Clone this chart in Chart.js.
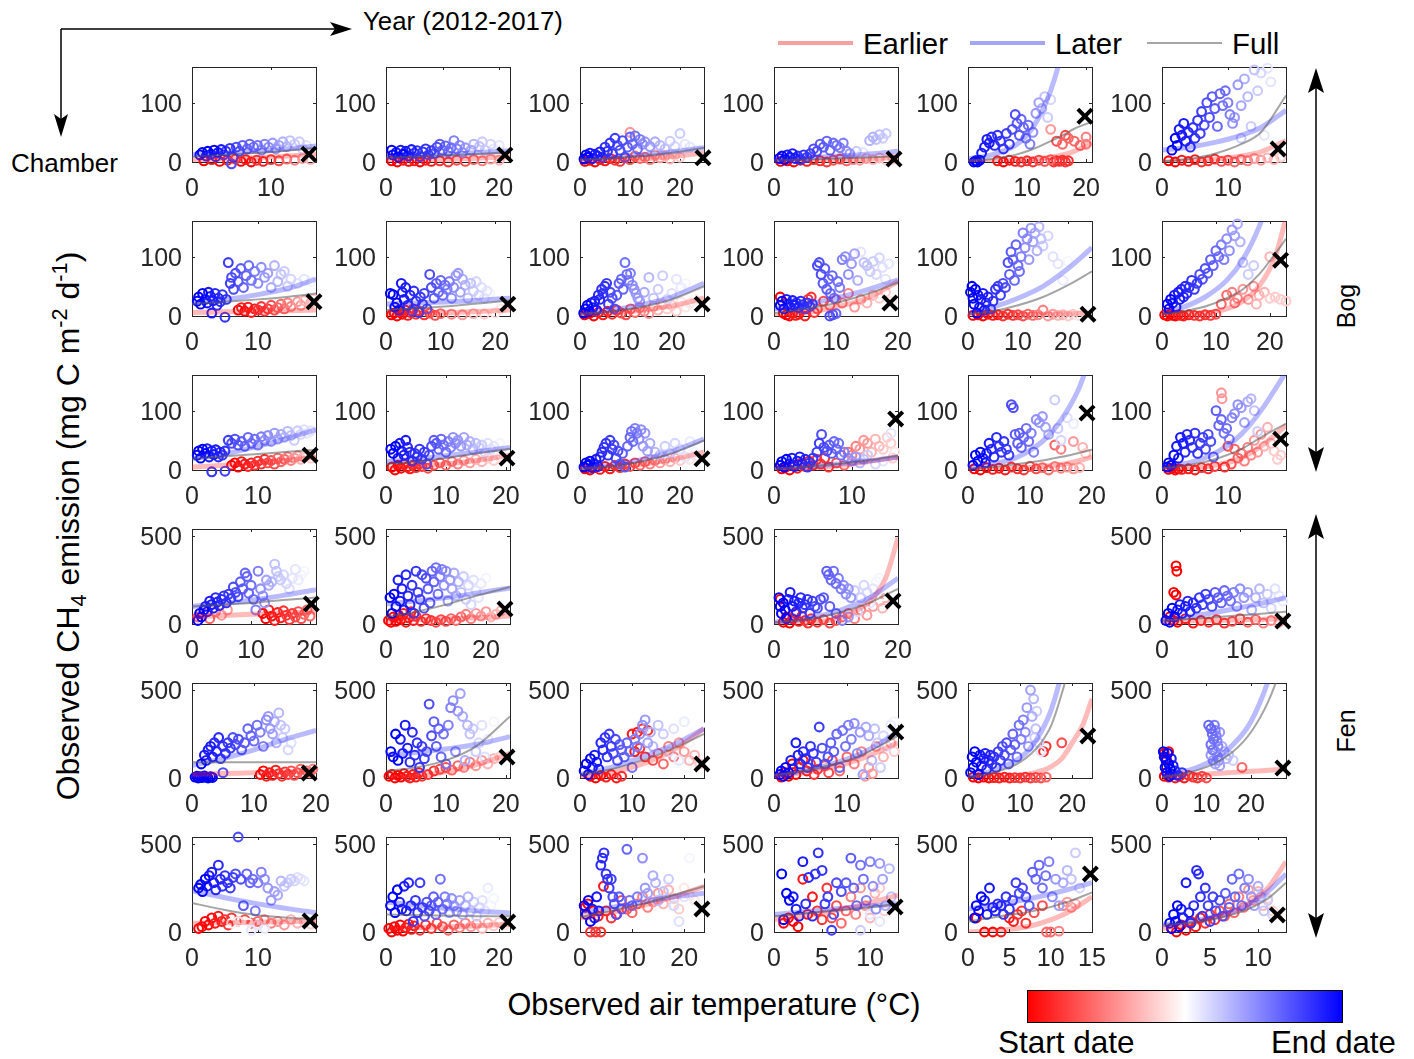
<!DOCTYPE html>
<html>
<head>
<meta charset="utf-8">
<script src="https://cdn.jsdelivr.net/npm/chart.js@4.4.0/dist/chart.umd.min.js"></script>
<style>
body{margin:0;background:#fff;width:1414px;height:1059px;position:relative;overflow:hidden;font-family:"Liberation Sans",Arial,sans-serif;color:#000}
.t{position:absolute;white-space:nowrap;line-height:1;transform:translateY(-50%)}
.r{position:absolute;width:0;height:0}
.r span{position:absolute;white-space:nowrap;line-height:1;transform:translate(-50%,-50%) rotate(-90deg)}
canvas{position:absolute}
sub,sup{font-size:68%;line-height:0}
</style>
</head>
<body>
<svg width="1414" height="1059" style="position:absolute;left:0;top:0">
  <g stroke="#000" stroke-width="1.5" fill="none">
    <line x1="61" y1="29" x2="340" y2="29"/>
    <line x1="61" y1="29" x2="61" y2="124"/>
    <line x1="1316" y1="82" x2="1316" y2="458"/>
    <line x1="1316" y1="528" x2="1316" y2="924"/>
  </g>
  <g fill="#000">
    <polygon points="352,29 330,22 335,29 330,36"/>
    <polygon points="61,137 54,114 61,119 68,114"/>
    <polygon points="1316,68 1308,93 1316,88 1324,93"/>
    <polygon points="1316,472 1308,447 1316,452 1324,447"/>
    <polygon points="1316,514 1308,539 1316,534 1324,539"/>
    <polygon points="1316,938 1308,913 1316,918 1324,913"/>
  </g>
  <line x1="778" y1="43" x2="853" y2="43" stroke="rgb(246,160,160)" stroke-width="4"/>
  <line x1="970" y1="43" x2="1045" y2="43" stroke="rgb(165,165,245)" stroke-width="4"/>
  <line x1="1147" y1="43" x2="1222" y2="43" stroke="rgb(165,165,165)" stroke-width="2"/>
</svg>
<div class="t" style="left:363px;top:22px;font-size:25.8px">Year (2012-2017)</div>
<div class="t" style="left:11px;top:163px;font-size:26px">Chamber</div>
<div class="t" style="left:863px;top:44px;font-size:29.4px">Earlier</div>
<div class="t" style="left:1055px;top:44px;font-size:29.4px">Later</div>
<div class="t" style="left:1232px;top:44px;font-size:29.4px">Full</div>
<div class="r" style="left:68px;top:526px"><span style="font-size:32px">Observed CH<sub>4</sub> emission (mg C m<sup>-2</sup> d<sup>-1</sup>)</span></div>
<div class="r" style="left:1346px;top:306px"><span style="font-size:25px">Bog</span></div>
<div class="r" style="left:1346px;top:731px"><span style="font-size:25px">Fen</span></div>
<div class="t" style="left:714px;top:1005px;font-size:30.7px;transform:translate(-50%,-50%)">Observed air temperature (°C)</div>
<div style="position:absolute;left:1027px;top:990px;width:316px;height:33px;box-sizing:border-box;border:1px solid #000;background:linear-gradient(to right,#ff0000,#ffffff 50%,#0000ff)"></div>
<div class="t" style="left:998px;top:1043px;font-size:31.5px">Start date</div>
<div class="t" style="left:1271px;top:1043px;font-size:31.2px">End date</div>

<script>
// panel axes (rows: chamber groups, cols: years)
const xMax = [
  [15.7, 21.9, 24.8, 18.8, 21, 18.8],
  [18.8, 22.7, 27, 20, 24.8, 23],
  [18.8, 20.7, 24.8, 15.9, 20, 18.8],
  [21, 24.8, null, 20, null, 15.9],
  [20, 20.7, 23.8, 17, 23.8, 27.9],
  [18.8, 21.9, 23.8, 12.9, 15, 12.9]
];
const xTicks = [
  [[0,10],[0,10,20],[0,10,20],[0,10],[0,10,20],[0,10]],
  [[0,10],[0,10,20],[0,10,20],[0,10,20],[0,10,20],[0,10,20]],
  [[0,10],[0,10,20],[0,10,20],[0,10],[0,10,20],[0,10]],
  [[0,10,20],[0,10,20],null,[0,10,20],null,[0,10]],
  [[0,10,20],[0,10,20],[0,10,20],[0,10],[0,10,20],[0,10,20]],
  [[0,10],[0,10,20],[0,10,20],[0,5,10],[0,5,10,15],[0,5,10]]
];
const yMax = [160, 160, 160, 540, 540, 540];
const yTicks = [[0,100],[0,100],[0,100],[0,500],[0,500],[0,500]];

// observed points: [air temperature, CH4 emission, date fraction 0=start 1=end]
const p11 = [[1,12,1],[1.3,16,1],[1.8,10,.95],[2,18,1],[2.4,13,.95],[2.8,20,1],[3,9,.95],[3.3,16,.95],[3.7,21,.95],[4,12,.9],[4.3,18,.9],[4.8,23,.9],[5.2,8,.9],[5,-3,.85],[5.6,25,.85],[6,18,.85],[6.4,28,.82],[7,22,.8],[7.3,30,.8],[7.8,25,.78],[8.3,28,.78],[8.8,20,.75],[9.2,30,.75],[9.7,25,.72],[10.2,32,.7],[10.6,22,.7],[11,28,.68],[11.5,34,.65],[12,26,.65],[12.4,36,.62],[13,30,.6],[13.6,34,.6],[14,22,.58],[14.5,28,.55],
  [1.5,2,0],[2.5,4,.05],[3.5,1,0],[4.5,3,.05],[5.5,5,.1],[6.2,1,0],[6.8,4,.05],[7.5,0,0],[8.2,3,.1],[9,1,.05],[10,4,.1],[11,2,.15],[12,5,.2],[13,3,.25],[14,6,.3],[15,4,.35]];
const p12 = [[1,20,1],[1.2,12,1],[1.8,16,.95],[2.2,8,1],[2.6,20,.95],[3,13,1],[3.5,18,.95],[4,10,.95],[4.5,21,.95],[5,15,.9],[5.5,19,.9],[6,9,.9],[6.5,17,.9],[7,22,.9],[7.5,12,.88],[8,19,.88],[8.5,14,.85],[9,25,.85],[9.5,30,.82],[10,20,.8],[10.5,27,.8],[11,18,.78],[11.5,24,.78],[12,36,.75],[12.5,22,.75],[13,28,.72],[13.5,16,.72],[14,24,.7],[15,20,.68],[15.5,30,.65],[16.5,26,.62],[17,34,.6],[17.5,20,.6],[18.5,30,.58],[19,22,.55],[20,28,.55],
  [1,2,0],[2,0,0],[3,3,.05],[4,1,0],[5,2,.05],[6,0,0],[7,3,.05],[8,1,.05],[9.5,2,.1],[11,0,.1],[12.5,3,.15],[14,1,.15],[15.5,4,.2],[17,2,.25],[18.5,5,.3],[20,3,.35]];
const p13 = [[0.8,5,1],[1.2,12,1],[1.6,8,1],[2,15,.95],[2.5,6,.95],[3,13,.95],[3.5,10,.95],[4,17,.95],[4.5,8,.9],[5,25,.9],[5.5,18,.9],[6,32,.9],[6.5,14,.88],[7,40,.88],[7.5,28,.85],[8,20,.85],[8.5,36,.85],[9,8,.85],[9.5,25,.82],[10,42,.8],[10.5,30,.8],[11,44,.78],[11.5,22,.78],[12,38,.75],[12.5,30,.72],[13,34,.7],[14,26,.7],[15,34,.66],[16,28,.64],[17,22,.62],[18,35,.6],[19,26,.58],[20,48,.6],[21,30,.55],[22,25,.55],[23,20,.52],[10,50,.3],
  [1,1,0],[2,3,0],[3,0,0],[4,4,.05],[5,2,.05],[6,6,.05],[7,3,.1],[8,1,.1],[9,7,.15],[10,4,.15],[11,10,.2],[12,6,.2],[13,8,.25],[14,4,.25],[15,12,.3],[16,7,.3],[17,10,.35],[18,5,.35],[19,12,.4],[20,8,.4]];
const p14 = [[0.8,6,1],[1.2,10,1],[1.6,4,1],[2,12,.95],[2.4,8,.95],[2.8,14,.95],[3.2,6,.95],[3.6,10,.9],[4,4,.9],[4.5,12,.9],[5,8,.88],[5.5,14,.88],[6,22,.85],[6.5,18,.85],[7,30,.82],[7.5,25,.82],[8,35,.8],[8.5,20,.8],[9,32,.78],[9.5,28,.78],[10,24,.75],[10.5,32,.75],[11,18,.72],[11.5,14,.7],[12.5,18,.6],[13.5,16,.55],[14.5,36,.65],[15,42,.65],[15.5,38,.62],[16,46,.62],[16.5,40,.6],[17,48,.6],
  [1,1,0],[2,2,0],[3,0,0],[4,3,.05],[5,1,.05],[6,4,.1],[7,2,.1],[8,0,.1],[9,3,.15],[10,5,.15],[11,2,.2],[12,4,.25],[13,3,.3],[14,6,.3],[15,4,.35],[16,7,.35],[17,3,.4],[18,5,.4]];
const p15 = [[1,0,1],[1.3,2,1],[1.6,0,1],[2,3,1],[2.3,15,.95],[2.8,25,.95],[3.2,38,.95],[3.6,32,.95],[4,42,.92],[4.5,28,.92],[5,45,.9],[5.5,35,.9],[6,22,.9],[6.5,48,.88],[7,30,.88],[7.5,55,.85],[8,80,.85],[8.3,65,.82],[8.7,45,.82],[9,72,.8],[9.4,58,.8],[9.8,40,.78],[10.2,62,.78],[10.5,30,.75],[11,50,.72],[11.5,82,.7],[12,100,.68],[12.5,90,.65],[13,110,.62],[13.5,75,.6],[14,105,.58],[18,85,.5],
  [5,2,.05],[6,0,0],[7,3,.05],[8,1,.05],[9,0,.1],[10,2,.1],[11,0,.1],[12,3,.15],[13,1,.15],[14,4,.2],[14.5,0,.1],[15,2,.1],[15.5,1,.1],[16,3,.1],[16.5,0,.1],[17,2,.1],[15,35,.15],[16,30,.2],[16.5,45,.15],[17,40,.2],[18,35,.2],[19,28,.2],[20,42,.25],[20,30,.25],[14,55,.3]];
const p16 = [[1.5,20,1],[2,40,1],[2.3,28,1],[2.6,55,.95],[3,45,.95],[3.3,65,.95],[3.6,35,.95],[4,50,.92],[4.3,25,.92],[4.7,58,.9],[5,40,.9],[5.4,70,.9],[5.8,48,.88],[6,85,.88],[6.4,62,.85],[6.8,100,.85],[7.2,75,.85],[7.6,110,.82],[8,90,.82],[8.4,60,.8],[8.8,115,.8],[9.2,95,.78],[9.6,120,.78],[10,100,.75],[10.3,80,.75],[10.7,65,.72],[11,75,.7],[11.5,130,.7],[12,95,.68],[12.5,140,.66],[13,110,.64],[13.5,60,.6],[14,155,.62],[14.5,120,.6],[15,150,.58],[15.5,45,.55],[16,158,.55],[16.5,135,.55],[17,100,.5],[12,40,.6],
  [1,2,0],[2,0,0],[3,3,.05],[4,1,.05],[5,4,.05],[6,0,.1],[7,2,.1],[8,5,.1],[9,1,.15],[10,3,.15],[11,0,.2],[12,4,.2],[13,2,.25],[14,6,.3],[15,3,.3],[16,7,.35],[17,4,.35],[18,8,.4]];

const p21 = [[0.8,25,1],[1,32,1],[1.3,20,1],[1.6,38,1],[2,28,.95],[2.3,22,.95],[2.5,40,.95],[2.8,33,.95],[3,5,.95],[3.2,26,.95],[3.5,38,.92],[3.8,18,.92],[4,30,.92],[4.3,24,.9],[4.6,36,.9],[5,-2,.9],[5.2,28,.9],[5.5,90,.88],[5.8,55,.88],[6,65,.85],[6.3,45,.85],[6.6,72,.85],[7,58,.82],[7.4,80,.82],[7.8,48,.8],[8.2,68,.8],[8.6,85,.78],[9,60,.78],[9.5,75,.75],[10,55,.72],[10.5,82,.72],[11,65,.7],[11.5,72,.68],[12,48,.66],[12.5,85,.65],[13,58,.64],[13.5,70,.62],[14,75,.6],[14.5,50,.6],[15,62,.58],[16,55,.56],[17,62,.55],[18,58,.52],
  [7,10,0],[7.5,14,.05],[8,8,0],[8.5,15,.05],[9,6,.05],[9.5,12,.05],[10,10,.1],[10.5,16,.1],[11,8,.1],[11.5,12,.1],[12,18,.15],[12.5,10,.15],[13,14,.2],[13.5,20,.2],[14,12,.2],[14.5,22,.25],[15,16,.25],[16,24,.3],[16.5,18,.3],[17,26,.35],[18,22,.35],[18.5,28,.4]];
const p22 = [[0.8,38,1],[1.3,36,1],[1.6,15,1],[2,22,1],[2.4,10,.95],[2.8,55,.95],[3,40,.95],[3.3,28,.95],[3.6,48,.95],[4,18,.92],[4.4,35,.92],[4.8,8,.9],[5.1,42,.9],[5.5,25,.9],[6,6,.9],[6.3,32,.88],[6.7,20,.88],[7,38,.88],[7.5,12,.85],[8,70,.85],[8.3,48,.85],[8.8,30,.82],[9.2,55,.82],[9.6,40,.8],[10,60,.8],[10.4,35,.78],[10.8,52,.78],[11.2,45,.75],[11.6,58,.75],[12,30,.72],[12.4,48,.72],[12.8,68,.7],[13.2,72,.7],[13.6,40,.68],[14,62,.66],[14.5,52,.65],[15,30,.62],[15.5,55,.62],[16,42,.6],[16.5,58,.58],[17,35,.58],[17.5,48,.56],[18,30,.55],[18.5,42,.55],[19,38,.52],[20,45,.5],
  [1,2,0],[1.5,5,0],[2,0,0],[2.5,8,.05],[3,3,0],[3.5,10,.05],[4,1,.05],[4.5,6,.05],[5,12,.05],[5.5,3,.1],[6,9,.1],[7,2,.1],[8,5,.15],[9,1,.15],[10,4,.2],[12,3,.25],[14,2,.3],[16,4,.35],[18,3,.4],[20,5,.45],[21,12,.45]];
const p23 = [[0.8,5,1],[1.2,12,1],[1.6,18,1],[2,8,1],[2.4,22,.95],[2.8,14,.95],[3.2,25,.95],[3.6,10,.95],[4,35,.92],[4.3,28,.92],[4.7,45,.9],[5,38,.9],[5.4,50,.9],[5.8,55,.88],[6.2,20,.88],[6.6,40,.85],[7,30,.85],[7.5,12,.85],[8,35,.82],[8.5,55,.82],[9,62,.8],[9.4,45,.8],[9.8,90,.78],[10.2,70,.78],[10.6,60,.75],[11,72,.75],[11.4,52,.72],[11.8,45,.72],[12.2,38,.7],[12.6,30,.7],[13,25,.68],[14,40,.66],[15,65,.64],[16,30,.62],[17,45,.6],[18,68,.6],[19,28,.58],[20,38,.56],[21,62,.55],[22,48,.54],[23,55,.52],[24,40,.5],
  [1,2,0],[2,4,0],[3,0,0],[4,6,.05],[5,2,.05],[6,8,.05],[7,3,.1],[8,10,.1],[9,5,.15],[10,2,.15],[11,12,.2],[12,6,.2],[13,14,.25],[14,8,.25],[15,4,.3],[16,16,.3],[17,10,.35],[18,20,.35],[19,12,.4],[20,18,.4],[21,8,.4],[22,24,.45],[23,15,.45],[24,22,.45],[25,28,.45]];
const p24 = [[1,18,1],[1.3,25,1],[1.6,12,1],[2,28,.95],[2.3,20,.95],[2.6,15,.95],[3,26,.95],[3.3,18,.95],[3.6,22,.92],[4,14,.92],[4.3,25,.92],[4.6,19,.9],[5,12,.9],[5.4,22,.9],[5.8,16,.88],[6.2,20,.88],[7,85,.85],[7.3,90,.85],[7.6,70,.85],[7.9,55,.82],[8.2,80,.82],[8.5,45,.82],[8.8,62,.8],[9.1,38,.8],[9.4,68,.8],[9.7,30,.78],[9,0,.85],[9.5,2,.82],[10,4,.8],[10.3,58,.78],[10.6,48,.75],[11,95,.75],[11.5,100,.72],[12,70,.72],[12.5,88,.7],[13,105,.68],[13.5,60,.66],[14,108,.55],[14.5,90,.62],[15,85,.62],[15.5,75,.6],[16,92,.6],[16.5,70,.58],[17,98,.58],[17.5,82,.56],[18,62,.55],[18.5,88,.55],
  [1,32,0],[1.5,5,0],[2,2,0],[2.5,0,0],[3,5,.05],[3.5,1,.05],[4,3,.05],[5,0,.05],[5.5,28,.1],[6,32,.1],[6.5,6,.1],[7,12,.15],[8,25,.15],[9,18,.2],[10,28,.2],[11,22,.25],[12,38,.25],[13,15,.3],[14,28,.3],[15,22,.35],[16,35,.35],[17,30,.4],[18,40,.4],[19,25,.45]];
const p25 = [[0.5,40,1],[0.8,50,1],[1,30,1],[1.2,20,1],[1.5,45,1],[1.8,5,1],[2,35,.95],[2.3,15,.95],[2.6,28,.95],[3,38,.95],[3.3,10,.95],[3.6,22,.92],[4,32,.92],[4.5,12,.9],[5,25,.9],[5.5,45,.9],[6,50,.88],[6.5,35,.88],[7,55,.85],[7.5,48,.85],[8,90,.85],[8.3,70,.82],[8.6,108,.82],[9,95,.8],[9.3,60,.8],[9.6,120,.8],[10,85,.78],[10.3,75,.78],[10.6,100,.75],[11,140,.75],[11.4,115,.72],[11.8,130,.72],[12.2,95,.7],[12.6,148,.7],[13,125,.68],[13.4,140,.66],[13.8,110,.65],[14.2,150,.64],[14.6,130,.62],[15,118,.6],[16,135,.58],[17,100,.56],[18,88,.55],[19,60,.54],[20,92,.52],[22,42,.5],
  [1,1,0],[2,2,0],[3,0,0],[4,3,.05],[5,1,.05],[6,2,.05],[7,0,.1],[8,3,.1],[9,1,.1],[10,2,.15],[11,0,.15],[12,3,.2],[13,1,.2],[14,2,.25],[15,10,.25],[16,0,.3],[17,3,.3],[18,1,.35],[19,2,.35],[20,0,.4],[21,3,.4],[22,1,.45]];
const p26 = [[1,20,1],[1.3,12,1],[1.6,28,1],[2,22,.95],[2.3,35,.95],[2.6,15,.95],[3,40,.95],[3.3,28,.95],[3.6,45,.92],[4,32,.92],[4.3,50,.92],[4.6,38,.9],[5,48,.9],[5.5,60,.9],[6,45,.88],[6.5,55,.88],[7,70,.85],[7.5,62,.85],[8,80,.85],[8.5,72,.82],[9,95,.82],[9.5,85,.8],[10,110,.8],[10.5,100,.78],[11,120,.75],[11.5,95,.75],[12,130,.72],[12.5,110,.72],[13,145,.7],[13.5,135,.68],[14,155,.66],[14.5,125,.65],[15,90,.62],[16,70,.6],[17,85,.6],
  [0.5,2,0],[1,0,0],[1.5,3,0],[2,1,0],[2.5,0,0],[3,2,.05],[3.5,1,.05],[4,0,.05],[5,2,.05],[6,1,.1],[7,0,.1],[8,2,.1],[9,1,.1],[10,3,.15],[11,20,.2],[12,35,.2],[13,40,.25],[13.5,22,.25],[14,30,.25],[15,45,.3],[16,28,.3],[17,50,.3],[17.5,20,.35],[18,35,.35],[19,40,.35],[20,30,.4],[20,100,.35],[21,32,.4],[22,28,.4],[23,25,.4]];

const p31 = [[0.8,25,1],[1,32,1],[1.3,20,1],[1.6,35,1],[2,28,1],[2.3,36,.95],[2.6,22,.95],[3,32,.95],[3.3,26,.95],[3.6,34,.95],[4,22,.92],[4.3,30,.92],[4.6,25,.9],[5,32,.9],[3,-3,.9],[5,-2,.88],[5.5,50,.88],[6,45,.85],[6.5,52,.85],[7,42,.82],[7.5,48,.82],[8,40,.8],[8.5,55,.8],[9,45,.78],[9.5,52,.78],[10,42,.75],[10.5,56,.75],[11,50,.72],[11.5,58,.72],[12,48,.7],[12.5,62,.7],[13,52,.68],[13.5,60,.66],[14,55,.65],[14.5,65,.64],[15,58,.62],[15.5,50,.6],[16,66,.6],[16.5,60,.58],[17,68,.56],[17.5,62,.55],[18,66,.55],
  [6,8,0],[6.5,12,0],[7,5,0],[7.5,14,.05],[8,10,.05],[8.5,6,.05],[9,12,.05],[9.5,8,.1],[10,15,.1],[10.5,10,.1],[11,18,.1],[11.5,12,.15],[12,16,.15],[12.5,10,.15],[13,20,.2],[13.5,14,.2],[14,18,.2],[14.5,22,.25],[15,16,.25],[15.5,20,.3],[16,24,.3],[16.5,18,.35],[17,22,.35],[17.5,26,.4],[18,20,.4]];
const p32 = [[0.8,35,1],[1.2,28,1],[1.6,40,1],[2,20,.95],[2.3,45,.95],[2.6,32,.95],[3,25,.95],[3.3,50,.95],[3.6,38,.92],[4,30,.92],[4.4,15,.92],[4.8,28,.9],[5.2,22,.9],[5.6,35,.9],[6,18,.88],[6.4,30,.88],[6.8,10,.85],[7.2,25,.85],[7.6,40,.85],[8,50,.82],[8.4,45,.82],[8.8,35,.8],[9.2,52,.8],[9.6,42,.78],[10,30,.78],[10.4,48,.75],[10.8,38,.75],[11.2,55,.72],[11.6,45,.72],[12,50,.7],[12.5,40,.7],[13,55,.68],[13.5,42,.66],[14,48,.65],[14.5,35,.64],[15,45,.62],[15.5,38,.6],[16,42,.6],[16.5,30,.58],[17,45,.56],[17.5,35,.56],[18,40,.55],[18.5,32,.54],[19,45,.52],[19.5,25,.5],
  [1,5,0],[1.5,0,0],[2,8,0],[2.5,3,0],[3,10,.05],[3.5,5,.05],[4,2,.05],[4.5,8,.05],[5,4,.1],[5.5,10,.1],[6,6,.1],[7,3,.15],[8,8,.15],[9,12,.2],[10,8,.2],[11,14,.25],[12,10,.25],[13,16,.3],[14,12,.3],[15,18,.35],[16,14,.35],[17,20,.4],[18,16,.4],[19,22,.45]];
const p33 = [[0.8,5,1],[1.2,12,1],[1.6,8,1],[2,15,1],[2.4,4,.95],[2.8,10,.95],[3.2,18,.95],[3.6,6,.95],[4,22,.92],[4.4,30,.92],[4.8,38,.9],[5.2,45,.9],[5.6,25,.9],[6,50,.88],[6.4,35,.88],[6.8,42,.85],[7.2,20,.85],[7.6,32,.85],[8,10,.82],[8.5,28,.82],[9,5,.82],[9.5,40,.8],[10,55,.8],[10.3,65,.78],[10.6,48,.78],[11,70,.75],[11.4,62,.75],[11.8,52,.72],[12.2,68,.72],[12.6,40,.7],[13,62,.7],[13.5,32,.68],[14,45,.66],[15,30,.64],[16,25,.62],[17,40,.6],[18,28,.6],[19,45,.58],[20,35,.56],[21,22,.55],[22,48,.54],[23,30,.52],[24,25,.5],
  [1,2,0],[2,0,0],[3,4,0],[4,1,.05],[5,6,.05],[6,2,.05],[7,8,.1],[8,4,.1],[9,10,.1],[10,6,.15],[11,12,.15],[12,8,.2],[13,14,.2],[14,10,.25],[15,16,.25],[16,12,.3],[17,18,.3],[18,14,.35],[19,20,.35],[20,16,.4],[21,22,.4],[22,18,.45],[23,24,.45]];
const p34 = [[0.8,8,1],[1,14,1],[1.3,5,1],[1.6,18,1],[2,10,.95],[2.3,20,.95],[2.6,6,.95],[3,15,.95],[3.3,22,.95],[3.6,10,.92],[4,18,.92],[4.3,5,.9],[4.6,12,.9],[5,20,.9],[5.5,30,.88],[5.8,45,.88],[6.1,60,.85],[6.4,38,.85],[6.8,32,.85],[7.1,42,.82],[7.4,28,.82],[7.7,48,.8],[8,35,.8],[8.3,45,.78],[8.6,25,.78],[9,30,.75],[9.5,20,.72],[10,15,.7],[10.5,22,.7],[11,12,.65],[11.5,18,.62],[12,25,.6],[13,10,.58],[14,15,.55],[15,62,.55],
  [1,2,0],[1.5,5,0],[2,0,0],[2.5,8,0],[3,3,.05],[3.5,12,.05],[4,6,.05],[4.5,15,.05],[5,8,.05],[5.5,18,.1],[6,10,.1],[6.5,20,.1],[7,5,.1],[8,12,.15],[9,8,.2],[9.5,30,.2],[10,25,.25],[10.5,40,.25],[11,35,.3],[11.5,50,.3],[12,45,.3],[12.5,30,.35],[13,52,.35],[13.5,40,.35],[14,35,.4],[14.5,55,.4],[15,45,.4],[15.5,30,.45],[15.2,20,.4]];
const p35 = [[0.8,8,1],[1.2,25,1],[1.6,15,1],[2,30,1],[2.4,20,.95],[2.8,12,.95],[3,28,.95],[3.4,45,.95],[3.8,35,.92],[4.2,22,.92],[4.6,55,.92],[5,40,.9],[5.4,30,.9],[5.8,48,.9],[6.2,35,.88],[6.6,25,.88],[7,110,.85],[7.3,105,.85],[7.6,60,.82],[8,45,.82],[8.3,62,.82],[8.6,38,.8],[9,55,.8],[9.4,70,.78],[9.8,48,.78],[10.2,62,.75],[10.6,30,.75],[11,85,.72],[11.5,80,.7],[12,90,.7],[12.5,72,.68],[13,60,.66],[14,118,.6],[14.5,70,.6],[15,50,.58],[16,88,.56],[17,78,.54],
  [1,2,0],[2,0,0],[3,4,0],[4,1,.05],[5,3,.05],[6,0,.05],[7,5,.1],[8,2,.1],[9,0,.1],[10,6,.15],[11,2,.15],[12,4,.2],[13,0,.2],[14,6,.25],[15,3,.25],[16,5,.3],[17,2,.3],[18,4,.35],[14,42,.2],[15,35,.25],[17,48,.3],[18.5,38,.35],[19,28,.4]];
const p36 = [[0.8,5,1],[1,12,1],[1.4,8,1],[1.8,25,1],[2.2,40,.95],[2.5,20,.95],[2.8,55,.95],[3.2,45,.95],[3.5,30,.92],[3.8,60,.92],[4.2,50,.92],[4.6,38,.9],[5,62,.9],[5.4,28,.9],[5.8,45,.88],[6.2,55,.88],[6.6,35,.85],[7,60,.85],[7.4,48,.85],[7.8,22,.82],[8.2,100,.82],[8.6,75,.8],[9,85,.8],[9.4,62,.78],[9.8,70,.78],[10.2,52,.75],[10.6,88,.75],[11,95,.72],[11.5,110,.72],[12,105,.7],[12.5,80,.68],[13,115,.66],[13.5,120,.64],[14,100,.62],[14.5,65,.6],
  [1,1,0],[1.5,3,0],[2,0,0],[2.5,2,0],[3,1,.05],[4,2,.05],[5,0,.05],[6,4,.1],[7,2,.1],[8,6,.1],[9,130,.3],[9.1,120,.3],[9.5,5,.1],[10,40,.15],[10.5,10,.15],[11,35,.2],[11.5,20,.2],[12,28,.2],[12.5,15,.25],[13,38,.25],[13.5,25,.25],[14,50,.3],[14.5,30,.3],[15,60,.3],[15.5,40,.35],[16,72,.35],[16.5,45,.35],[17,32,.4],[17.5,18,.4],[18,25,.4]];

const p41 = [[1,20,1],[1.3,60,1],[1.6,40,1],[2,80,1],[2.3,100,.95],[2.6,70,.95],[3,130,.95],[3.3,110,.95],[3.6,90,.95],[4,150,.92],[4.3,125,.92],[4.6,105,.92],[5,140,.9],[5.4,160,.9],[5.8,120,.9],[6.2,170,.88],[6.6,145,.88],[7,210,.85],[7.4,180,.85],[7.8,155,.85],[8.2,240,.82],[8.6,200,.82],[9,290,.8],[9.3,270,.8],[9.6,175,.8],[10,220,.78],[10.4,140,.78],[10.8,80,.75],[11.2,300,.75],[11.6,200,.72],[12,160,.72],[12.3,120,.7],[12.6,250,.68],[13,220,.66],[13.5,240,.64],[14,340,.62],[14.3,300,.62],[14.6,270,.6],[15,250,.6],[15.5,280,.58],[16,230,.58],[16.5,200,.56],[17,260,.55],[17.5,310,.55],[18,250,.54],[18.5,280,.52],[19,300,.52],[19.5,320,.5],[20,330,.5],
  [1,40,.2],[2,60,.25],[3,30,.2],[4,70,.25],[5,50,.3],[6,80,.3],[12,60,0],[12.5,30,0],[13,80,.05],[13.5,45,0],[14,20,.05],[14.5,65,.05],[15,35,.05],[15.5,75,.1],[16,50,.1],[16.5,25,.1],[17,60,.1],[17.5,40,.15],[18,70,.15],[18.5,30,.15],[19,55,.2],[19.5,80,.2],[20,45,.2]];
const p42 = [[0.8,150,1],[1.2,60,1],[1.6,170,1],[2,100,1],[2.4,250,.95],[2.8,130,.95],[3.2,200,.95],[3.6,80,.95],[4,280,.92],[4.4,160,.92],[4.8,110,.92],[5.2,220,.9],[5.6,60,.9],[6,300,.9],[6.4,180,.88],[6.8,140,.88],[7.2,280,.85],[7.6,90,.85],[8,260,.85],[8.4,200,.82],[8.8,120,.82],[9.2,300,.8],[9.6,240,.8],[10,320,.78],[10.4,170,.78],[10.8,270,.75],[11.2,310,.75],[11.6,220,.72],[12,300,.72],[12.4,130,.7],[12.8,250,.7],[13.2,200,.68],[13.6,290,.66],[14,160,.65],[14.5,240,.64],[15,180,.62],[15.5,270,.6],[16,140,.6],[16.5,220,.58],[17,110,.58],[17.5,250,.56],[18,190,.55],[18.5,150,.55],[19,230,.54],[20,260,.52],[21,140,.5],
  [0.5,20,0],[1,10,0],[1.5,40,0],[2,15,0],[2.5,50,0],[3,25,0],[3.5,60,.05],[4,10,.05],[4.5,35,.05],[5,70,.05],[5.5,20,.05],[6,45,.1],[7,15,.1],[8,30,.1],[9,20,.1],[10,10,.15],[11,25,.15],[12,15,.15],[13,30,.2],[14,20,.2],[15,40,.2],[16,55,.25],[17,30,.25],[18,60,.3],[19,45,.3],[20,70,.3],[21,40,.35],[22,55,.35],[23,75,.35]];
const p44 = [[0.8,150,1],[1,100,1],[1.2,60,1],[1.5,120,1],[1.8,80,1],[2,30,1],[2.3,140,.95],[2.6,180,.95],[3,100,.95],[3.3,130,.95],[3.6,70,.92],[4,120,.92],[4.3,150,.92],[4.6,90,.9],[5,110,.9],[5.4,140,.9],[5.8,60,.88],[6.2,130,.88],[6.6,100,.85],[7,90,.85],[7.5,140,.85],[8,150,.82],[8.5,300,.82],[8.8,280,.8],[9.2,250,.8],[9.6,300,.78],[10,230,.78],[10.4,260,.75],[10.8,200,.75],[11.2,220,.72],[11.6,170,.72],[12,200,.7],[12.4,150,.7],[9,100,.82],[10,60,.8],[11,20,.75],[12,40,.7],[13,190,.6],[13.5,70,.58],[14,150,.6],[14.5,220,.58],[15,180,.58],[15.5,120,.55],[16,200,.55],[16.5,240,.52],[17,260,.52],[17.5,160,.5],
  [1,140,0],[1.5,10,0],[2,40,0],[2.5,5,0],[3,30,.05],[3.5,60,.05],[4,15,.05],[4.5,45,.05],[5,20,.1],[5.5,5,.1],[6,30,.1],[7,10,.1],[8,25,.15],[9,5,.15],[10,20,.15],[11,40,.2],[12,60,.2],[13,30,.25],[14,80,.25],[15,50,.3],[16,100,.3],[17,130,.35],[18,150,.35],[17.5,90,.35]];
const p46 = [[0.5,20,1],[0.8,60,1],[1,10,1],[1.3,90,1],[1.6,40,1],[2,80,.95],[2.3,110,.95],[2.6,60,.95],[3,100,.95],[3.3,130,.92],[3.6,70,.92],[4,120,.92],[4.4,90,.9],[4.8,150,.9],[5.2,110,.88],[5.6,170,.88],[6,140,.85],[6.4,100,.85],[6.8,180,.82],[7.2,150,.82],[7.6,120,.8],[8,190,.8],[8.4,160,.78],[8.8,130,.78],[9.2,180,.75],[9.6,100,.72],[10,200,.72],[10.5,150,.7],[11,180,.68],[11.5,80,.66],[12,150,.65],[12.5,200,.64],[13,120,.62],[13.5,170,.6],[14,90,.58],[14.5,200,.56],[15,160,.55],[15.5,130,.54],
  [1.8,330,0],[1.9,300,0],[1.5,180,0],[1.8,165,0],[1,40,0],[1.5,20,0],[2,10,0],[3,30,.05],[4,5,.05],[5,20,.05],[6,10,.1],[7,25,.1],[8,5,.1],[9,15,.15],[10,30,.15],[11,10,.2],[12,25,.2],[13,5,.25],[14,20,.25],[15,10,.3]];

const p51 = [[0.5,5,1],[0.8,10,1],[1,0,1],[1.3,8,1],[1.6,2,1],[2,12,1],[2.3,5,1],[2.6,0,1],[3,8,1],[3.3,3,1],[1.5,80,1],[2,130,.95],[2.3,100,.95],[2.6,160,.95],[3,180,.95],[3.3,120,.95],[3.6,200,.92],[4,150,.92],[4.3,230,.92],[4.6,110,.9],[5,180,.9],[5.4,140,.9],[5.8,200,.88],[6.2,170,.88],[6.6,230,.85],[7,190,.85],[7.5,220,.85],[8,160,.82],[8.5,200,.82],[9,280,.8],[9.5,240,.8],[10,210,.78],[10.5,300,.78],[11,260,.75],[11.5,180,.75],[12,330,.72],[12.3,350,.7],[12.6,280,.7],[13,250,.68],[13.3,320,.66],[13.6,200,.65],[14,370,.64],[14.3,300,.62],[14.6,230,.6],[15,280,.6],[15.5,160,.58],[16,200,.56],[5,30,.85],
  [11,20,0],[11.5,40,0],[12,10,.05],[12.5,30,.05],[13,15,.05],[13.5,45,.05],[14,25,.1],[14.5,10,.1],[15,35,.1],[15.5,20,.1],[16,40,.15],[16.5,15,.15],[17,30,.15],[17.5,50,.2],[18,25,.2],[18.5,40,.2],[19,30,.25],[19.5,50,.25]];
const p52 = [[0.8,150,1],[1.2,120,1],[1.6,250,1],[2,100,1],[2.4,220,.95],[2.8,140,.95],[3.2,300,.95],[3.6,170,.95],[4,90,.92],[4.4,260,.92],[4.8,130,.9],[5.2,200,.9],[5.6,60,.9],[6,180,.88],[6.4,110,.88],[6.8,150,.85],[7.2,420,.85],[7.6,240,.85],[8,320,.82],[8.4,180,.82],[8.8,280,.8],[9.2,120,.8],[9.6,250,.78],[10,80,.78],[10.4,300,.75],[10.8,400,.75],[11.2,440,.72],[11.6,150,.72],[12,380,.7],[12.4,480,.68],[12.8,350,.66],[13.2,100,.66],[13.6,300,.64],[14,250,.62],[14.5,280,.6],[15,150,.6],[15.5,200,.58],[16,300,.56],[16.5,120,.56],[17,220,.54],[18,320,.52],[19,200,.5],
  [0.5,10,0],[1,20,0],[1.5,0,0],[2,15,0],[2.5,5,0],[3,25,0],[3.5,10,.05],[4,0,.05],[4.5,20,.05],[5,5,.05],[5.5,30,.05],[6,10,.1],[7,20,.1],[8,40,.1],[9,50,.15],[10,60,.15],[11,45,.2],[12,70,.2],[13,60,.25],[14,90,.25],[15,70,.3],[16,100,.3],[17,80,.35],[18,110,.35],[19,120,.4]];
const p53 = [[0.8,40,1],[1.2,80,1],[1.6,20,1],[2,110,1],[2.4,60,.95],[2.8,130,.95],[3.2,90,.95],[3.6,50,.95],[4,200,.92],[4.4,160,.92],[4.8,230,.9],[5.2,120,.9],[5.6,250,.88],[6,180,.88],[6.4,140,.85],[6.8,220,.85],[7.2,100,.85],[7.6,190,.82],[8,160,.82],[8.5,120,.8],[9,200,.8],[9.5,150,.78],[10,60,.78],[10.5,220,.75],[11,180,.75],[11.5,250,.72],[12,300,.72],[12.5,330,.7],[13,200,.68],[13.5,260,.66],[14,180,.64],[15,300,.62],[16,250,.6],[17,150,.58],[18,280,.56],[19,100,.55],[20,320,.54],[21,200,.52],[22,360,.5],[23,300,.5],
  [2,10,0],[3,0,0],[4,15,0],[5,5,.05],[6,20,.05],[7,0,.05],[8,10,.1],[10,250,.05],[10.5,150,.05],[11,260,.05],[11.5,170,.1],[12,280,.1],[12.5,120,.1],[13,270,.1],[14,100,.15],[15,140,.2],[16,80,.2],[17,180,.25],[18,120,.25],[19,200,.3],[20,150,.3],[21,100,.35],[22,130,.35],[23,80,.4]];
const p54 = [[0.8,20,1],[1,40,1],[1.3,10,1],[1.6,60,1],[2,30,1],[2.3,100,.95],[2.6,50,.95],[3,200,.95],[3.3,130,.95],[3.6,80,.92],[4,150,.92],[4.3,110,.92],[4.6,60,.9],[5,180,.9],[5.4,140,.9],[5.8,90,.88],[6.2,290,.88],[6.6,170,.85],[7,80,.85],[7.4,120,.85],[7.8,200,.82],[8.2,150,.82],[8.6,250,.8],[9,60,.8],[9.4,270,.78],[9.8,180,.78],[10.2,300,.75],[10.6,220,.75],[11,310,.72],[11.4,140,.72],[11.8,260,.7],[12.2,20,.68],[12.6,290,.66],[13,240,.66],[13.4,100,.64],[13.8,280,.62],[14.2,200,.6],[14.6,60,.6],[15,240,.58],[15.5,180,.56],[16,300,.54],[16.5,320,.52],
  [1,5,0],[1.5,30,0],[2,10,0],[2.5,80,0],[3,20,0],[3.5,60,.05],[4,100,.05],[4.5,40,.05],[5,80,.1],[5.5,20,.1],[6,50,.1],[7,70,.15],[7.5,30,.15],[8,100,.15],[9,40,.2],[10,120,.2],[11,80,.25],[12,150,.25],[13,60,.3],[14,180,.3],[15,120,.35],[16,200,.35],[16.5,150,.4],[12.5,10,.3],[13.5,25,.3]];
const p55 = [[0.5,30,1],[0.8,120,1],[1,60,1],[1.3,150,1],[1.6,90,1],[2,20,1],[2.3,130,.95],[2.6,70,.95],[3,110,.95],[3.3,140,.95],[3.6,50,.92],[4,100,.92],[4.3,130,.92],[4.6,80,.9],[5,120,.9],[5.4,60,.9],[5.8,150,.88],[6.2,100,.88],[6.6,180,.85],[7,130,.85],[7.4,200,.85],[7.8,80,.82],[8.2,160,.82],[8.6,250,.8],[9,190,.8],[9.4,120,.78],[9.8,300,.78],[10.2,220,.75],[10.6,330,.75],[11,260,.72],[11.3,400,.7],[11.6,180,.7],[12,500,.68],[12.3,350,.66],[12.6,450,.64],[13,280,.62],[12.8,230,.6],[13.2,380,.6],[13.6,200,.58],[14,150,.55],
  [1,5,0],[2,0,0],[3,5,0],[4,0,0],[5,2,.05],[6,0,.05],[7,5,.05],[8,0,.05],[9,2,.1],[10,0,.1],[11,5,.1],[12,0,.1],[13,3,.15],[14,0,.15],[14.5,150,.1],[15,180,.1],[18,200,.15],[15,5,.2]];
const p56 = [[0.3,150,1],[0.5,120,1],[0.7,60,1],[0.9,100,1],[1.1,30,1],[1.3,140,1],[1.5,80,1],[1.7,10,1],[1.9,50,1],[2.1,110,.95],[2.3,20,.95],[2.5,70,.95],[3,40,.92],[3.5,15,.92],[4.5,30,.9],[10.5,300,.8],[11,280,.8],[11.3,250,.78],[11.6,220,.78],[11,190,.78],[11.4,160,.76],[11.8,300,.76],[12,270,.75],[12.2,240,.75],[12.4,210,.74],[12.6,180,.74],[12,150,.72],[12.5,120,.72],[12.8,100,.7],[13,260,.7],[11,130,.7],[11.5,100,.7],[12,80,.68],[13,70,.68],[13.5,180,.66],[14,150,.65],[14.5,110,.64],[15,130,.62],[16,100,.6],
  [0.5,140,0],[1,110,0],[1.5,150,0],[0.5,10,0],[1,30,0],[1.5,5,0],[2,20,0],[3,0,.05],[4,10,.05],[5,0,.05],[6,15,.1],[7,5,.1],[8,0,.1],[9,10,.15],[10,0,.15],[18,60,.2]];

const p61 = [[1,250,1],[1.3,270,1],[1.6,230,1],[2,300,1],[2.3,260,.95],[2.6,320,.95],[3,340,.95],[3.3,280,.95],[3.6,240,.92],[4,380,.92],[4.3,300,.92],[4.6,260,.9],[5,320,.9],[5.4,280,.9],[5.8,250,.88],[6.2,310,.88],[6.6,330,.85],[7,540,.85],[7.4,300,.85],[7.8,150,.82],[8.3,330,.8],[8.8,280,.8],[9.2,300,.78],[9.6,120,.76],[10,280,.75],[10.5,340,.75],[11,300,.72],[11.5,250,.7],[12,180,.7],[12.5,230,.68],[13,210,.66],[13.5,290,.64],[14,260,.62],[14.5,280,.6],[15,300,.6],[15.5,290,.58],[16,310,.56],[16.5,300,.55],[17,290,.55],
  [7,60,.45],[8,20,.5],[8.5,50,.5],[9,10,.55],[10,40,.55],[11,20,.55],[6,50,.5],
  [1,20,0],[1.5,30,0],[2,60,0],[2.5,40,0],[3,80,0],[3.5,50,.05],[4,90,.05],[4.5,60,.05],[5,70,.1],[5.5,40,.1],[6,80,.1],[7,60,.15],[8,70,.15],[9,50,.2],[10,60,.2],[11,70,.25],[12,50,.25],[13,60,.3],[14,40,.3],[15,70,.35],[16,50,.35],[17,60,.4],[18,45,.4]];
const p62 = [[0.8,150,1],[1.2,200,1],[1.6,110,1],[2,240,1],[2.4,170,.95],[2.8,130,.95],[3.2,260,.95],[3.6,120,.95],[4,280,.92],[4.4,150,.92],[4.8,60,.9],[5.2,180,.9],[5.6,110,.9],[6,280,.88],[6.4,140,.88],[6.8,90,.85],[7.2,170,.85],[7.6,120,.85],[8,150,.82],[8.4,200,.82],[8.8,100,.8],[9.2,170,.8],[9.6,300,.78],[10,130,.78],[10.4,200,.75],[10.8,160,.75],[11.2,110,.72],[11.6,190,.72],[12,150,.7],[12.5,120,.7],[13,180,.68],[13.5,100,.66],[14,150,.65],[14.5,200,.64],[15,120,.62],[15.5,170,.6],[16,90,.6],[16.5,140,.58],[17,180,.56],[17.5,120,.55],[18,250,.54],[18.5,150,.52],[19,190,.52],[19.5,110,.5],
  [0.5,20,0],[1,0,0],[1.5,30,0],[2,10,0],[2.5,40,0],[3,5,0],[3.5,25,.05],[4,45,.05],[4.5,15,.05],[5,35,.05],[6,10,.1],[7,40,.1],[8,20,.1],[9,50,.15],[10,30,.15],[11,10,.2],[12,40,.2],[13,25,.25],[14,50,.25],[15,30,.3],[16,45,.3],[17,20,.35],[18,50,.35],[19,35,.4],[20,55,.4],[21,40,.45]];
const p63 = [[0.8,150,1],[1.2,100,1],[1.6,180,1],[2,60,1],[2.4,130,.95],[2.8,80,.95],[3.2,200,.95],[3.6,120,.95],[4,380,.92],[4.3,420,.92],[4.6,450,.9],[5,330,.9],[5.3,300,.9],[5.6,250,.88],[6,300,.88],[6.3,200,.85],[6.6,160,.85],[7,100,.85],[7.5,200,.82],[8,130,.82],[9,470,.8],[9.5,180,.78],[10,150,.78],[11,200,.75],[12,420,.72],[12.5,250,.7],[13,220,.68],[14,320,.66],[14.5,280,.65],[15,180,.64],[16,230,.62],[17,300,.6],[18,150,.58],[19,60,.56],[20,200,.55],[21,420,.52],[22,400,.5],[23,320,.5],
  [1,140,0],[1.5,160,0],[2,0,.1],[3,0,.1],[4,0,.1],[2.5,120,0],[3.5,90,.05],[4.5,260,.05],[5,120,.05],[6,80,.1],[7,100,.1],[8,180,.15],[9,130,.15],[10,110,.2],[11,160,.2],[12,200,.25],[13,140,.25],[14,170,.3],[15,220,.3],[16,160,.35],[17,240,.35],[18,190,.4],[19,130,.4],[20,250,.45],[21,210,.45],[22,180,.45]];
const p64 = [[0.8,330,1],[1,70,1],[1.3,220,1],[1.6,180,1],[2,200,.95],[2.3,130,.95],[2.6,90,.95],[3,400,.95],[3.3,160,.92],[3.6,310,.92],[4,90,.92],[4.3,330,.9],[4.6,450,.9],[5,350,.9],[5.3,160,.88],[5.6,200,.88],[6,10,.88],[6.2,100,.85],[6.5,280,.85],[7,230,.85],[7.5,280,.82],[8,420,.82],[8.3,250,.8],[8.6,150,.8],[9,380,.78],[9.3,300,.78],[9.6,180,.75],[10,400,.75],[10.3,260,.72],[10.6,130,.72],[11,390,.7],[11.3,300,.68],[11.6,150,.66],[12,360,.64],[12.2,200,.62],[9,10,.6],[10,100,.55],[11,60,.55],
  [1,50,0],[1.5,80,0],[2,60,0],[2.5,30,0],[3,300,.05],[3.5,100,.05],[4,200,.05],[4.5,120,.1],[5,70,.1],[5.5,250,.1],[6,80,.15],[6.5,150,.15],[7,50,.2],[7.5,120,.2],[8,200,.25],[8.5,100,.25],[9,250,.3],[9.5,150,.3],[10,80,.35],[10.5,220,.35],[11,250,.4],[11.5,120,.4]];
const p65 = [[0.8,80,1],[1,150,1],[1.3,120,1],[1.6,200,1],[2,180,.95],[2.3,100,.95],[2.6,250,.95],[3,140,.95],[3.3,120,.92],[3.6,160,.92],[4,150,.92],[4.3,100,.9],[4.6,200,.9],[5,130,.9],[5.4,180,.88],[5.8,280,.88],[6.2,220,.85],[6.6,250,.85],[7,200,.85],[7.4,150,.82],[7.8,340,.82],[8.2,300,.8],[8.6,380,.8],[9,250,.78],[9.4,320,.78],[9.8,400,.75],[10.2,200,.72],[10.6,300,.7],[11,150,.68],[11.5,280,.66],[12,350,.64],[12.5,300,.62],[13,450,.6],[13.5,250,.58],
  [1,80,0],[2,0,0],[3,0,0],[4,0,.05],[5,80,.05],[5.5,60,.05],[6,100,.1],[6.5,120,.1],[7,50,.1],[8,110,.15],[9,150,.15],[9.5,0,.2],[10,0,.2],[11,5,.25],[11.5,150,.25],[12,170,.3],[12.5,140,.3],[13,160,.35]];
const p66 = [[0.8,50,1],[1,20,1],[1.2,100,1],[1.4,60,1],[1.6,150,1],[1.8,30,1],[2,130,.95],[2.2,80,.95],[2.5,280,.95],[2.8,110,.95],[3,50,.92],[3.3,150,.92],[3.6,350,.92],[3.8,330,.92],[4,200,.9],[4.2,90,.9],[4.5,250,.9],[4.8,150,.88],[5,60,.88],[5.3,200,.88],[5.6,120,.85],[6,180,.85],[6.3,90,.85],[6.6,220,.82],[7,140,.82],[7.3,300,.8],[7.6,200,.8],[8,330,.78],[8.3,150,.78],[8.6,250,.75],[9,300,.72],[9.3,200,.7],[9.6,150,.68],[10,260,.66],[10.3,200,.64],[10.6,120,.62],[11,180,.6],[11.5,100,.58],
  [1,20,0],[1.5,0,0],[2,40,0],[2.5,10,0],[3,60,.05],[3.5,30,.05],[4,80,.05],[4.5,50,.1],[5,100,.1],[5.5,70,.1],[6,120,.15],[6.5,90,.15],[7,160,.2],[7.5,110,.2],[8,200,.25],[8.5,140,.25],[9,240,.3],[9.5,180,.3],[10,230,.35],[10.5,150,.35],[11,190,.4],[11.5,120,.4],[12,100,.45]];

// fitted curves: [temperatures, earlier, later, full]
const c11 = [[0,4,8,12,15.7],[3,5,7,10,13],[12,15,18,22,27],[9,12,15,19,24]];
const c12 = [[0,5,10,15,21.9],[2,3,4,6,9],[8,10,12,15,19],[7,9,11,13,16]];
const c13 = [[0,6,12,18,24.8],[0,2,5,9,15],[5,8,12,17,24],[4,6,10,15,24]];
const c14 = [[0,5,10,15,18.8],[-3,0,2,5,8],[4,7,10,14,18],[3,4,6,8,10]];
const c15 = [[0,4,8,10,12,14,16,18,21],[0,1,3,4,6,8,12,18,32],[5,12,28,45,75,120,190,300,600],[2,5,12,18,26,35,45,56,68]];
const c16 = [[0,4,8,12,15,18.8],[0,2,5,10,17,36],[20,25,33,45,58,87],[1,5,14,30,50,112]];
const c21 = [[0,5,10,15,18.8],[6,7,8,9,10],[22,28,36,48,62],[20,24,28,33,38]];
const c22 = [[0,6,12,18,22.7],[4,5,6,8,10],[20,22,24,27,30],[10,13,17,22,26]];
const c23 = [[0,7,14,20,27],[2,5,10,17,30],[4,10,20,32,55],[3,8,16,28,50]];
const c24 = [[0,5,10,15,20],[0,5,15,30,58],[12,20,30,44,61],[5,12,22,37,56]];
const c25 = [[0,5,10,15,20,24.8],[0,1,2,3,4,5],[5,15,30,50,80,115],[3,8,18,32,52,75]];
const c26 = [[0,4,8,12,15,18,21,23],[0,2,5,12,25,50,100,165],[5,15,32,60,95,150,230,300],[3,8,16,30,45,70,105,130]];
const c31 = [[0,5,10,15,18.8],[5,8,12,17,22],[19,27,40,55,68],[19,23,27,31,34]];
const c32 = [[0,5,10,15,20.7],[3,6,10,16,25],[14,18,24,30,38],[10,14,20,28,36]];
const c33 = [[0,6,12,18,24.8],[1,4,9,17,30],[3,8,17,30,52],[2,6,14,27,50]];
const c34 = [[0,4,8,12,15.9],[-2,2,7,14,22],[2,5,10,15,22],[2,5,10,16,24]];
const c35 = [[0,4,8,12,14,16,18,20],[0,1,3,6,8,11,16,22],[5,10,22,48,70,100,140,200],[2,5,10,16,20,24,29,34]];
const c36 = [[0,4,8,12,15,18.8],[0,3,8,20,40,75],[5,12,28,60,100,165],[3,8,18,35,55,78]];
const c41 = [[0,5,10,15,21],[40,48,55,62,70],[100,115,135,160,195],[100,110,120,135,150]];
const c42 = [[0,6,12,18,24.8],[20,25,30,35,45],[115,130,150,175,205],[40,70,110,160,210]];
const c44 = [[0,5,10,13,16,18,20],[0,8,30,70,150,260,490],[10,30,70,110,160,210,260],[10,25,60,90,130,165,200]];
const c46 = [[0,4,8,12,15.9],[15,18,22,26,30],[20,45,75,110,150],[20,30,42,56,70]];
const c51 = [[0,5,10,15,20],[20,25,30,35,40],[70,110,160,220,270],[90,90,90,90,90]];
const c52 = [[0,5,10,15,20.7],[0,10,35,75,140],[130,145,165,190,235],[40,60,100,180,350]];
const c53 = [[0,6,12,18,23.8],[0,30,80,160,280],[20,60,120,190,280],[20,50,100,170,250]];
const c54 = [[0,4,8,12,17],[10,30,60,110,200],[15,40,80,140,260],[15,40,75,130,240]];
const c55 = [[0,4,8,10,12,14,16,18,20,22,23.8],[0,3,8,15,25,40,65,110,200,300,450],[10,35,80,115,170,260,390,600,900,1300,1800],[5,25,60,90,135,200,300,480,700,1000,1400]];
const c56 = [[0,4,8,12,16,20,24,27.9],[0,10,18,25,32,38,44,50],[10,30,60,110,190,320,560,900],[5,20,45,85,150,260,440,700]];
const c61 = [[0,5,10,15,18.8],[50,53,56,59,62],[235,195,160,130,110],[165,125,95,80,75]];
const c62 = [[0,6,12,18,21.9],[20,25,30,38,42],[170,150,130,115,108],[100,95,92,90,90]];
const c63 = [[0,6,12,18,23.8],[80,110,150,200,260],[110,140,170,200,220],[85,120,160,210,260]];
const c64 = [[0,4,8,12.9],[70,100,140,210],[100,120,140,160],[90,110,130,160]];
const c65 = [[0,4,8,12,15],[0,10,40,110,200],[130,160,195,240,280],[60,90,120,170,225]];
const c66 = [[0,4,8,11,12.9],[20,60,130,250,400],[40,70,130,230,330],[40,60,110,190,280]];

// model estimate for the chamber (black cross)
const markX = [
  [14.8, 21, 24.6, 18.2, 19.8, 17.6],
  [18.5, 22.3, 26.6, 18.7, 24, 22],
  [17.9, 20.2, 24.4, 15.6, 19.2, 18],
  [20.2, 23.8, null, 19.2, null, 15.5],
  [18.9, 20.2, 23.4, 16.7, 23, 27.2],
  [17.9, 21.5, 23.4, 12.6, 14.8, 12]
];
const markY = [
  [13, 12, 7, 5, 77, 22],
  [24, 20, 20, 22, 3, 94],
  [25, 20, 19, 86, 96, 52],
  [114, 85, null, 131, null, 17],
  [28, 119, 80, 261, 239, 57],
  [63, 57, 131, 142, 330, 97]
];

const panelPts = [
  [p11, p12, p13, p14, p15, p16],
  [p21, p22, p23, p24, p25, p26],
  [p31, p32, p33, p34, p35, p36],
  [p41, p42, null, p44, null, p46],
  [p51, p52, p53, p54, p55, p56],
  [p61, p62, p63, p64, p65, p66]
];
const panelCurves = [
  [c11, c12, c13, c14, c15, c16],
  [c21, c22, c23, c24, c25, c26],
  [c31, c32, c33, c34, c35, c36],
  [c41, c42, null, c44, null, c46],
  [c51, c52, c53, c54, c55, c56],
  [c61, c62, c63, c64, c65, c66]
];

function dateColor(t) {
  let r, g, b;
  if (t < 0.5) { r = 255; g = b = Math.round(510 * t); }
  else { b = 255; r = g = Math.round(510 * (1 - t)); }
  return 'rgb(' + r + ',' + g + ',' + b + ')';
}

// MATLAB-like box with inward ticks
const boxPlugin = {
  id: 'box',
  beforeDatasetsDraw(chart) {
    const ctx = chart.ctx, a = chart.chartArea, sx = chart.scales.x, sy = chart.scales.y;
    ctx.save();
    ctx.strokeStyle = '#262626';
    ctx.lineWidth = 1;
    ctx.strokeRect(Math.round(a.left) + 0.5, Math.round(a.top) + 0.5, Math.round(a.right - a.left), Math.round(a.bottom - a.top));
    ctx.beginPath();
    sx.ticks.forEach(tk => {
      const px = Math.round(sx.getPixelForValue(tk.value)) + 0.5;
      ctx.moveTo(px, a.bottom); ctx.lineTo(px, a.bottom - 3);
      ctx.moveTo(px, a.top); ctx.lineTo(px, a.top + 3);
    });
    sy.ticks.forEach(tk => {
      const py = Math.round(sy.getPixelForValue(tk.value)) + 0.5;
      ctx.moveTo(a.left, py); ctx.lineTo(a.left + 3, py);
      ctx.moveTo(a.right, py); ctx.lineTo(a.right - 3, py);
    });
    ctx.stroke();
    ctx.restore();
  }
};

const tickFont = { family: '"Liberation Sans", Arial, sans-serif', size: 25 };

for (let r = 0; r < 6; r++) {
  for (let c = 0; c < 6; c++) {
    if (xMax[r][c] === null) continue;
    const L = 192 + 194 * c, T = 67 + 154 * r;
    const cv = document.createElement('canvas');
    cv.width = 208; cv.height = 147;
    cv.style.left = (L - 70) + 'px';
    cv.style.top = (T - 12) + 'px';
    document.body.appendChild(cv);

    const pts = panelPts[r][c].slice().sort((a, b) => a[2] - b[2]);
    const cr = panelCurves[r][c];
    const line = (ys, color, w, ord) => ({
      data: cr[0].map((x, i) => ({ x: x, y: ys[i] })),
      showLine: true, borderColor: color, borderWidth: w, pointRadius: 0,
      cubicInterpolationMode: 'monotone', fill: false, order: ord
    });
    const xt = xTicks[r][c], yt = yTicks[r];

    new Chart(cv, {
      type: 'scatter',
      data: {
        datasets: [
          {
            data: pts.map(p => ({ x: p[0], y: p[1] })),
            pointBorderColor: pts.map(p => dateColor(p[2])),
            pointBackgroundColor: 'rgba(0,0,0,0)',
            pointRadius: 4.4, pointBorderWidth: 2.1, clip: false, order: 5
          },
          line(cr[1], 'rgba(255,40,40,0.32)', 5, 3),
          line(cr[2], 'rgba(40,40,255,0.32)', 5, 2),
          line(cr[3], 'rgba(90,90,90,0.55)', 2, 1),
          {
            data: [{ x: markX[r][c], y: markY[r][c] }],
            pointStyle: 'crossRot', pointRadius: 10, pointBorderWidth: 4,
            pointBorderColor: '#000', pointBackgroundColor: '#000', clip: false, order: 0
          }
        ]
      },
      options: {
        responsive: false, animation: false, devicePixelRatio: 1, events: [],
        layout: { padding: { left: 0, top: 12, right: 14, bottom: 0 }, autoPadding: false },
        plugins: { legend: { display: false }, tooltip: { enabled: false } },
        scales: {
          x: {
            type: 'linear', position: 'bottom', min: 0, max: xMax[r][c],
            grid: { display: false, drawTicks: false }, border: { display: false },
            ticks: { font: tickFont, color: '#262626', padding: 12, autoSkip: false, maxRotation: 0, callback: v => String(v) },
            afterBuildTicks: s => { s.ticks = xt.map(v => ({ value: v })); },
            afterFit: s => { s.height = 40; s.paddingLeft = 0; s.paddingRight = 0; }
          },
          y: {
            type: 'linear', position: 'left', min: 0, max: yMax[r],
            grid: { display: false, drawTicks: false }, border: { display: false },
            ticks: { font: tickFont, color: '#262626', padding: 10, labelOffset: 2, autoSkip: false, callback: v => String(v) },
            afterBuildTicks: s => { s.ticks = yt.map(v => ({ value: v })); },
            afterFit: s => { s.width = 70; s.paddingTop = 0; s.paddingBottom = 0; }
          }
        }
      },
      plugins: [boxPlugin]
    });
  }
}
</script>
</body>
</html>
